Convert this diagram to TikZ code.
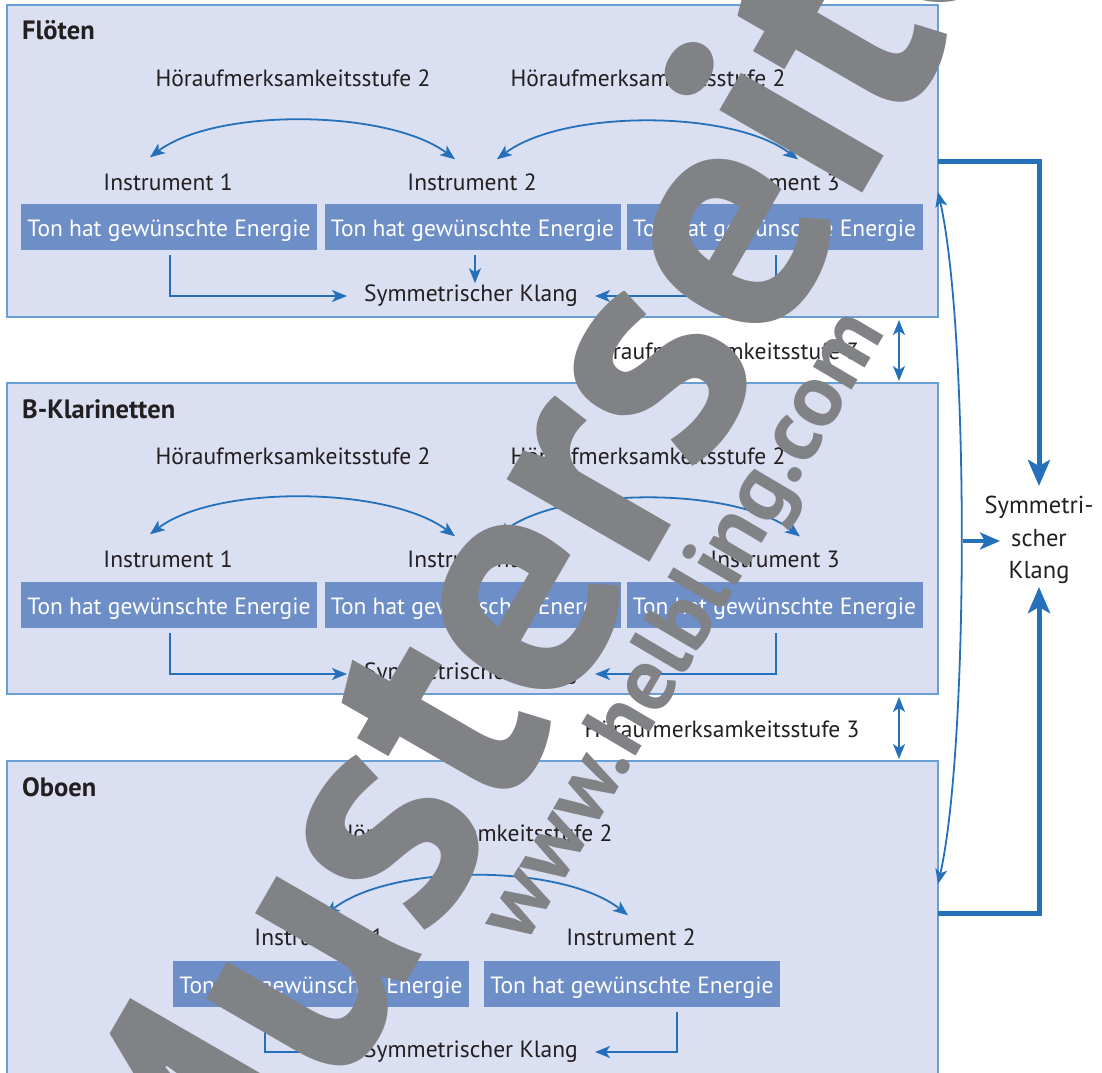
\documentclass[tikz,border=0pt]{standalone}
\usepackage{fontspec}
\setmainfont{PT Sans}
\usetikzlibrary{arrows.meta,calc}
\definecolor{panelfill}{HTML}{DADFF1}
\definecolor{panelline}{HTML}{6A9FD6}
\definecolor{boxfill}{HTML}{6E8EC8}
\definecolor{arrowblue}{HTML}{2470BA}
\definecolor{txt}{HTML}{231F20}
\definecolor{wm}{HTML}{808285}
\begin{document}
\begin{tikzpicture}[x=1pt,y=-1pt,
  font=\fontsize{23.5}{28}\selectfont,
  panel/.style={draw=panelline, line width=1.2pt, fill=panelfill, inner sep=0pt, outer sep=0pt, anchor=north west, minimum width=931pt},
  ttl/.style={font=\fontsize{26.5}{30}\selectfont\bfseries, text=txt, anchor=west, inner sep=0pt},
  lbl/.style={inner sep=0pt, text=txt},
  ebox/.style={fill=boxfill, text=white, inner sep=0pt, minimum width=296pt, minimum height=46pt, text height=19pt, text depth=0pt},
  klang/.style={inner xsep=17pt, inner ysep=3pt, text=txt},
  arr/.style={draw=arrowblue, line width=1.8pt, -{Stealth[length=15pt,width=12pt,inset=4pt]}},
  darr/.style={draw=arrowblue, line width=1.8pt, {Stealth[length=15pt,width=12pt,inset=4pt]}-{Stealth[length=15pt,width=12pt,inset=4pt]}},
  tarr/.style={draw=arrowblue, line width=5pt, -{Stealth[length=26pt,width=22pt,inset=6pt]}},
  marr/.style={draw=arrowblue, line width=4pt, -{Stealth[length=20pt,width=17pt,inset=5pt]}},
  wmk/.style={text=wm, inner sep=0pt, font=\fontsize{330}{330}\selectfont\bfseries},
  wmk2/.style={text=wm, inner sep=0pt, font=\fontsize{90}{90}\selectfont\bfseries}
]
\clip (0,0) rectangle (1102,1072);
\useasboundingbox (0,0) rectangle (1102,1072);

% panels
\node[panel, minimum height=312pt] (p1) at (7,5) {};
\node[panel, minimum height=311pt] (p2) at (7,383) {};
\node[panel, minimum height=340pt] (p3) at (7,761) {};

\node[ttl] (t1) at (22,30) {Flöten};
\node[ttl] (t2) at (22,409) {B-Klarinetten};
\node[ttl] (t3) at (22,787) {Oboen};

% ---------- Floeten
\node[lbl] (h11) at (293,78) {Höraufmerksamkeitsstufe 2};
\node[lbl] (h12) at (648,78) {Höraufmerksamkeitsstufe 2};
\node[lbl] (i11) at (168,182) {Instrument 1};
\node[lbl] (i12) at (472,182) {Instrument 2};
\node[lbl] (i13) at (775,182) {Instrument 3};
\node[ebox] (b11) at (169,227) {Ton hat gewünschte Energie};
\node[ebox] (b12) at (472.5,227) {Ton hat gewünschte Energie};
\node[ebox] (b13) at (774.5,227) {Ton hat gewünschte Energie};
\node[klang] (k1) at (471,296) {Symmetrischer Klang};
\coordinate (a11) at ([xshift=-18pt,yshift=16pt]i11.north);
\coordinate (a12) at ([xshift=-17pt,yshift=14pt]i12.north);
\coordinate (a13) at ([xshift=25pt,yshift=14pt]i12.north);
\coordinate (a14) at ([xshift=23pt,yshift=14pt]i13.north);
\draw[darr] (a11) .. controls ($(a11)+(66,-50)$) and ($(a12)+(-66,-50)$) .. (a12);
\draw[darr] (a13) .. controls ($(a13)+(66,-50)$) and ($(a14)+(-66,-50)$) .. (a14);
\draw[arr] (b11.south) ++(1,5) |- (k1.west);
\draw[arr] (b12.south) ++(2.5,5) -- ++(0,28);
\draw[arr] (b13.south) ++(1.5,5) |- (k1.east);

% ---------- Klarinetten
\node[lbl] (h21) at (293,456) {Höraufmerksamkeitsstufe 2};
\node[lbl] (h22) at (648,456) {Höraufmerksamkeitsstufe 2};
\node[lbl] (i21) at (168,559) {Instrument 1};
\node[lbl] (i22) at (472,559) {Instrument 2};
\node[lbl] (i23) at (775,559) {Instrument 3};
\node[ebox] (b21) at (169,605) {Ton hat gewünschte Energie};
\node[ebox] (b22) at (472.5,605) {Ton hat gewünschte Energie};
\node[ebox] (b23) at (774.5,605) {Ton hat gewünschte Energie};
\node[klang] (k2) at (471,674) {Symmetrischer Klang};
\coordinate (a21) at ([xshift=-18pt,yshift=16pt]i21.north);
\coordinate (a22) at ([xshift=-17pt,yshift=14pt]i22.north);
\coordinate (a23) at ([xshift=25pt,yshift=14pt]i22.north);
\coordinate (a24) at ([xshift=25pt,yshift=14pt]i23.north);
\draw[darr] (a21) .. controls ($(a21)+(66,-50)$) and ($(a22)+(-66,-50)$) .. (a22);
\draw[darr] (a23) .. controls ($(a23)+(66,-50)$) and ($(a24)+(-66,-50)$) .. (a24);
\draw[arr] (b21.south) ++(1,5) |- (k2.west);
\draw[arr] (b22.south) ++(2.5,5) -- ++(0,28);
\draw[arr] (b23.south) ++(1.5,5) |- (k2.east);

% ---------- Oboen
\node[lbl] (h31) at (475,833) {Höraufmerksamkeitsstufe 2};
\node[lbl] (i31) at (319,937) {Instrument 1};
\node[lbl] (i32) at (631,937) {Instrument 2};
\node[ebox] (b31) at (321,984) {Ton hat gewünschte Energie};
\node[ebox] (b32) at (632,984) {Ton hat gewünschte Energie};
\node[klang] (k3) at (471,1052) {Symmetrischer Klang};
\coordinate (a31) at ([xshift=6pt,yshift=13pt]i31.north);
\coordinate (a32) at ([xshift=-3pt,yshift=13pt]i32.north);
\draw[darr] (a31) .. controls ($(a31)+(66,-52)$) and ($(a32)+(-66,-52)$) .. (a32);
\draw[arr] (b31.south) ++(-56,5) |- (k3.west);
\draw[arr] (b32.south) ++(45,5) |- (k3.east);

% ---------- between panels
\draw[darr] ($(p1.south east)+(-39,3)$) -- ($(p2.north east)+(-39,-2)$);
\draw[darr] ($(p2.south east)+(-39,3)$) -- ($(p3.north east)+(-39,-2)$);
\node[lbl] (s31) at (722,351) {Höraufmerksamkeitsstufe 3};
\node[lbl] (s32) at (722,729) {Höraufmerksamkeitsstufe 3};

% ---------- right side
\node[lbl, align=center, font=\fontsize{24.5}{32.5}\selectfont] (sk) at (1039,540) {Symmetri-\\scher\\Klang};
\draw[tarr] (p1.east) -| ([yshift=10pt]sk.north);
\draw[tarr] ($(p3.north east)+(0,152)$) -| ([yshift=-3pt]sk.south);
\coordinate (ct) at ($(p1.east)+(0,31)$);
\coordinate (cb) at ($(p3.north east)+(0,123)$);
\draw[darr] (ct) .. controls (969,330) and (969,746) .. (cb);
\coordinate (cm) at (963,541);
\draw[marr] (cm) -- ++(37,0);

% ---------- watermark
\node[wmk, rotate=60] (wm1) at (523,551) {Musterseite};
\node[wmk2, rotate=59.5] (wm2) at (686,628) {www.helbling.com};
\end{tikzpicture}
\end{document}
